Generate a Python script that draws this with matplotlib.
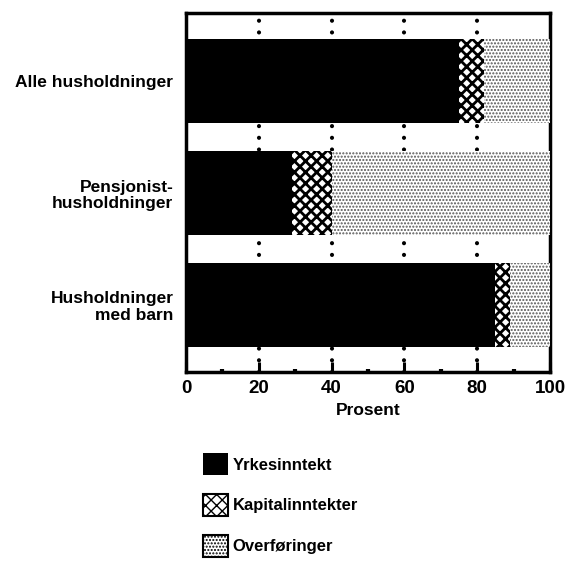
import matplotlib
matplotlib.use("Agg")
import matplotlib.pyplot as plt
from matplotlib.patches import Patch
from matplotlib.ticker import MultipleLocator

categories = ["Alle husholdninger", "Pensjonist-\nhusholdninger", "Husholdninger\nmed barn"]
yrkesinntekt = [75, 29, 85]
kapitalinntekter = [7, 11, 4]
overforinger = [18, 60, 11]
series_labels = ["Yrkesinntekt", "Kapitalinntekter", "Overføringer"]
xticks = [0, 20, 40, 60, 80, 100]

plt.rcParams['font.family'] = ['Liberation Sans', 'DejaVu Sans']
plt.rcParams['font.weight'] = 'bold'

fig = plt.figure(figsize=(5.67, 5.62), dpi=100)
ax = fig.add_axes([0.328, 0.338, 0.642, 0.639])

ypos = list(range(len(categories)))
h = 0.75
left2 = [a for a in yrkesinntekt]
left3 = [a + b for a, b in zip(yrkesinntekt, kapitalinntekter)]

ax.barh(ypos, yrkesinntekt, height=h, color='black', linewidth=0, zorder=3)
plt.rcParams['hatch.linewidth'] = 2.0
ax.barh(ypos, kapitalinntekter, left=left2, height=h, facecolor='white',
        edgecolor='black', hatch='xxx', linewidth=0, zorder=3)
plt.rcParams['hatch.linewidth'] = 1.0
ax.barh(ypos, overforinger, left=left3, height=h, facecolor='white',
        edgecolor='#555555', hatch='.....', linewidth=0, zorder=3)

ax.set_xlim(0, 100)
ax.set_ylim(2.6, -0.61)
ax.set_xticks(xticks)
ax.xaxis.set_minor_locator(MultipleLocator(10))
ax.set_yticks(ypos)
ax.set_yticklabels(categories, fontsize=12.5, fontweight='bold', linespacing=1.1)
ax.tick_params(axis='y', length=0, pad=9)
ax.tick_params(axis='x', which='major', direction='in', length=7, width=2.2,
               labelsize=13.5, pad=6)
ax.tick_params(axis='x', which='minor', direction='in', length=2, width=3)
for lab in ax.get_xticklabels():
    lab.set_fontweight('bold')

for xv in [20, 40, 60, 80]:
    ax.axvline(xv, color='black', linewidth=3, linestyle=(0, (0.01, 2.8)),
               dash_capstyle='round', zorder=1)

for s in ax.spines.values():
    s.set_linewidth(2.5)

ax.set_xlabel("Prosent", fontsize=12.5, fontweight='bold', labelpad=4)

handles = [
    Patch(facecolor='black', edgecolor='black', linewidth=0),
    Patch(facecolor='white', edgecolor='black', hatch='xxx', linewidth=1.5),
    Patch(facecolor='white', edgecolor='black', hatch='.....', linewidth=1.5),
]
fig.legend(handles, series_labels, loc='upper left', bbox_to_anchor=(0.346, 0.206),
           frameon=False, handlelength=1.5, handleheight=1.7, labelspacing=1.1,
           handletextpad=0.3, fontsize=12, borderaxespad=0)

fig.savefig("out.png", dpi=100)
